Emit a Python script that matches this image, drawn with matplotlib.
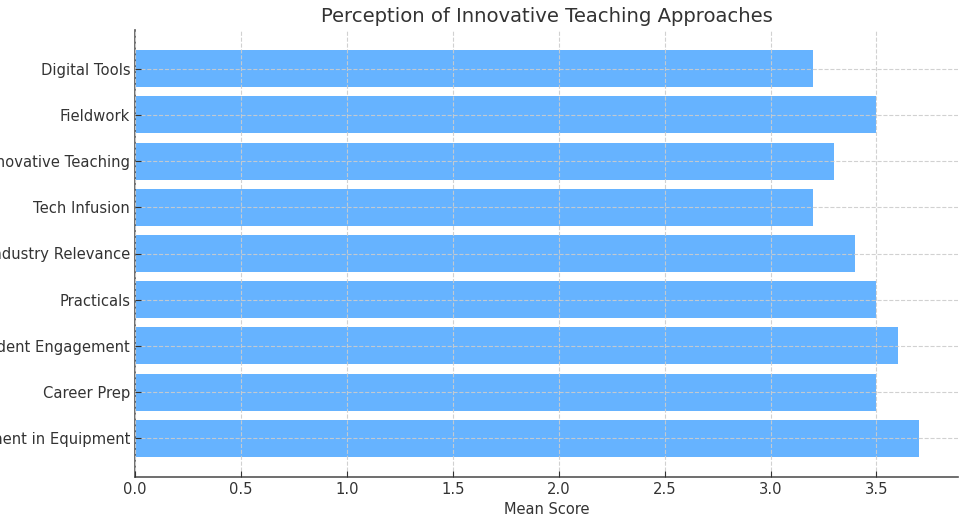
import matplotlib
matplotlib.use("Agg")
import matplotlib.pyplot as plt

categories = [
    "Investment in Equipment",
    "Career Prep",
    "Student Engagement",
    "Practicals",
    "Industry Relevance",
    "Tech Infusion",
    "Innovative Teaching",
    "Fieldwork",
    "Digital Tools",
]
mean_scores = [3.7, 3.5, 3.6, 3.5, 3.4, 3.2, 3.3, 3.5, 3.2]

text_color = "#333333"
plt.rcParams["font.family"] = "DejaVu Sans"

fig = plt.figure(figsize=(9.6, 5.18), dpi=100)
ax = fig.add_axes([135 / 960, 1 - 477 / 518, (958 - 135) / 960, (477 - 30) / 518])

ax.barh(categories, mean_scores, color="#66b3ff", height=0.8)

ax.set_title("Perception of Innovative Teaching Approaches", fontsize=14.1,
             color=text_color, pad=6)
ax.set_xlabel("Mean Score", fontsize=10.5, color=text_color, labelpad=4)

ax.tick_params(axis="both", direction="in", labelsize=10.6, colors=text_color,
               length=4)
ax.grid(True, linestyle="--", color="#cccccc", linewidth=0.8, alpha=0.9)
ax.set_axisbelow(False)

for side in ("top", "right"):
    ax.spines[side].set_visible(False)
for side in ("left", "bottom"):
    ax.spines[side].set_color("#555555")
    ax.spines[side].set_linewidth(1.2)

fig.savefig("out.png", dpi=100)
